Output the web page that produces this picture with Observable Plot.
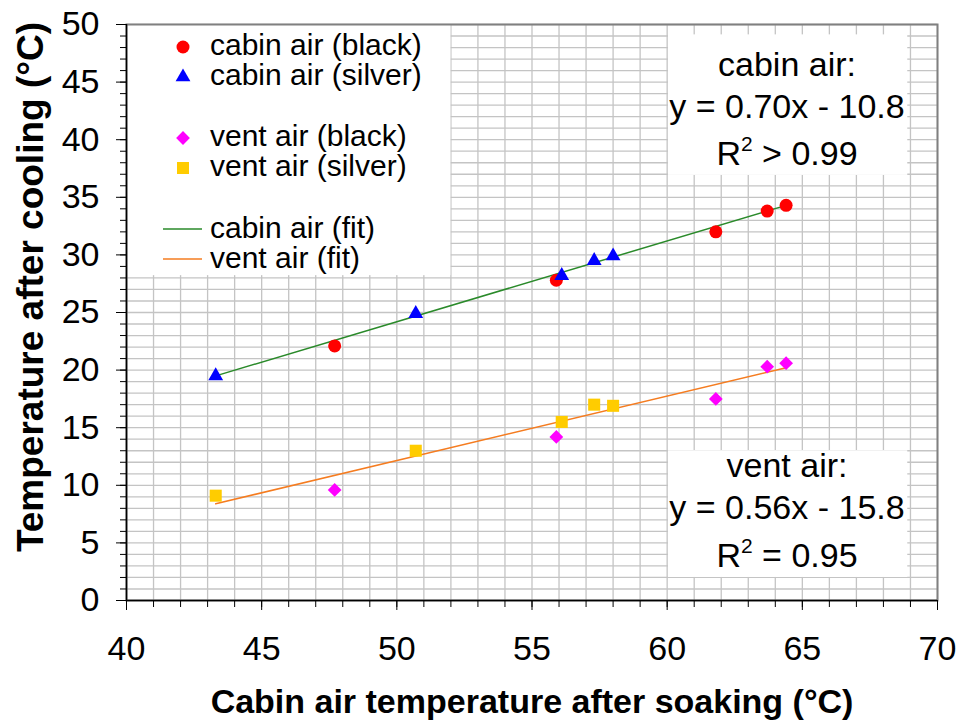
<!DOCTYPE html>
<html><head><meta charset="utf-8">
<script src="https://cdn.jsdelivr.net/npm/d3@7"></script>
<script src="https://cdn.jsdelivr.net/npm/@observablehq/plot@0.6"></script>
<style>body{margin:0;background:#fff} svg{display:block}</style>
</head><body><div id="chart"></div>
<script>
// ---- data ----
const cabinBlackX  = [47.7, 55.9, 61.8, 63.7, 64.4];
const cabinBlackY  = [22.1, 27.8, 32.0, 33.8, 34.3];
const cabinSilverX = [43.3, 50.7, 56.1, 57.3, 58.0];
const cabinSilverY = [19.5, 24.9, 28.2, 29.5, 29.9];
const ventBlackX   = [47.7, 55.9, 61.8, 63.7, 64.4];
const ventBlackY   = [9.6, 14.2, 17.5, 20.3, 20.6];
const ventSilverX  = [43.3, 50.7, 56.1, 57.3, 58.0];
const ventSilverY  = [9.1, 13.0, 15.5, 17.0, 16.9];
const cabinFitX = [43.3, 64.4];
const cabinFitY = [19.5, 34.3];
const ventFitX  = [43.3, 64.4];
const ventFitY  = [8.4, 20.2];
const xTicks = [40, 45, 50, 55, 60, 65, 70];
const yTicks = [0, 5, 10, 15, 20, 25, 30, 35, 40, 45, 50];
const legendLabels = ["cabin air (black)", "cabin air (silver)", "vent air (black)", "vent air (silver)", "cabin air (fit)", "vent air (fit)"];
const cabinNote = ["cabin air:", "y = 0.70x - 10.8", "R", "2", " > 0.99"];
const ventNote  = ["vent air:", "y = 0.56x - 15.8", "R", "2", " = 0.95"];
const xLabel = "Cabin air temperature after soaking (°C)";
const yLabel = "Temperature after cooling (°C)";

const pts = (xs, ys) => xs.map((x, i) => ({x, y: ys[i]}));
const FONT = "'Liberation Sans', Arial, sans-serif";
const xMinor = d3.range(40, 71, 1);
const yMinor = d3.range(0, 51, 1);
const GREEN = "#2a8a2a", ORANGE = "#f57c20", RED = "#ff0000", BLUE = "#0000ff", MAGENTA = "#ff00ff", YELLOW = "#ffcc00";
const R_CIRCLE = 6.5, R_TRI = 5.5, R_DIAM = 6.2, R_SQ = 6.8;

const plot = Plot.plot({
  width: 962, height: 723,
  marginLeft: 126, marginRight: 25, marginTop: 24, marginBottom: 123,
  x: {domain: [40, 70]},
  y: {domain: [0, 50]},
  style: {fontFamily: FONT, fontSize: "34px", background: "white", overflow: "visible"},
  marks: [
    Plot.gridX(xMinor, {stroke: "#c4c4c4", strokeOpacity: 1, strokeWidth: 1.3}),
    Plot.gridY(yMinor, {stroke: "#c4c4c4", strokeOpacity: 1, strokeWidth: 1.3}),
    Plot.rect([0], {x1: 40, x2: 52, y1: 28.2, y2: 50, fill: "white"}),
    Plot.rect([0], {x1: 60.05, x2: 68.9, y1: 36.9, y2: 49.1, fill: "white"}),
    Plot.rect([0], {x1: 60.05, x2: 68.9, y1: 2.0, y2: 13.0, fill: "white"}),
    Plot.frame({stroke: "#808080", strokeWidth: 2}),
    Plot.ruleX([40], {stroke: "black", strokeWidth: 1.5}),
    Plot.ruleY([0], {stroke: "black", strokeWidth: 1.5}),
    Plot.axisX(xMinor, {tickSize: 7, tickFormat: () => "", label: null}),
    Plot.axisX(xTicks, {tickSize: 10, tickPadding: 25, fontSize: 34, label: null}),
    Plot.axisY(yMinor, {tickSize: 6, tickFormat: () => "", label: null}),
    Plot.axisY(yTicks, {tickSize: 10, tickPadding: 17, fontSize: 34, label: null}),
    Plot.line(pts(cabinFitX, cabinFitY), {x: "x", y: "y", stroke: GREEN, strokeWidth: 1.5}),
    Plot.line(pts(ventFitX, ventFitY), {x: "x", y: "y", stroke: ORANGE, strokeWidth: 1.5}),
    Plot.dot(pts(cabinBlackX, cabinBlackY), {x: "x", y: "y", symbol: "circle", r: R_CIRCLE, fill: RED}),
    Plot.dot(pts(cabinSilverX, cabinSilverY), {x: "x", y: "y", symbol: "triangle", r: R_TRI, fill: BLUE}),
    Plot.dot(pts(ventBlackX, ventBlackY), {x: "x", y: "y", symbol: "diamond2", r: R_DIAM, fill: MAGENTA}),
    Plot.dot(pts(ventSilverX, ventSilverY), {x: "x", y: "y", symbol: "square", r: R_SQ, fill: YELLOW})
  ]
});
document.getElementById("chart").append(plot);

const svg = d3.select(plot);

// legend
const lg = svg.append("g").attr("font-family", FONT).attr("font-size", 30).attr("text-anchor", "start").attr("fill", "black");
const symb = [
  {t: d3.symbolCircle, r: R_CIRCLE, fill: RED, cy: 47},
  {t: d3.symbolTriangle, r: R_TRI, fill: BLUE, cy: 77},
  {t: d3.symbolDiamond2, r: R_DIAM, fill: MAGENTA, cy: 138},
  {t: d3.symbolSquare, r: R_SQ, fill: YELLOW, cy: 168}
];
symb.forEach(s => lg.append("path").attr("d", d3.symbol(s.t, Math.PI * s.r * s.r)()).attr("fill", s.fill).attr("transform", `translate(183,${s.cy})`));
[[GREEN, 229], [ORANGE, 259]].forEach(([c, y]) => lg.append("line").attr("x1", 163).attr("x2", 202).attr("y1", y).attr("y2", y).attr("stroke", c).attr("stroke-width", 1.5));
[55, 85, 146, 176, 238, 268].forEach((y, i) => lg.append("text").attr("x", 210).attr("y", y).text(legendLabels[i]));

// annotations
function note(lines, baselines, cx) {
  const g = svg.append("g").attr("font-family", FONT).attr("font-size", 34).attr("text-anchor", "middle").attr("fill", "black");
  g.append("text").attr("x", cx).attr("y", baselines[0]).text(lines[0]);
  g.append("text").attr("x", cx).attr("y", baselines[1]).text(lines[1]);
  const t = g.append("text").attr("x", cx).attr("y", baselines[2]);
  t.append("tspan").text(lines[2]);
  t.append("tspan").attr("font-size", 21).attr("dy", -14).text(lines[3]);
  t.append("tspan").attr("dy", 14).text(lines[4]);
}
note(cabinNote, [76, 118, 165], 787);
note(ventNote, [477, 519, 567], 787);

// axis titles
svg.append("text").attr("font-family", FONT).attr("font-size", 34).attr("font-weight", "bold")
  .attr("text-anchor", "middle").attr("x", 532).attr("y", 713).text(xLabel);
svg.append("text").attr("font-family", FONT).attr("font-size", 37).attr("font-weight", "bold")
  .attr("text-anchor", "middle").attr("transform", "translate(43,287) rotate(-90)").text(yLabel);
</script>
</body></html>
